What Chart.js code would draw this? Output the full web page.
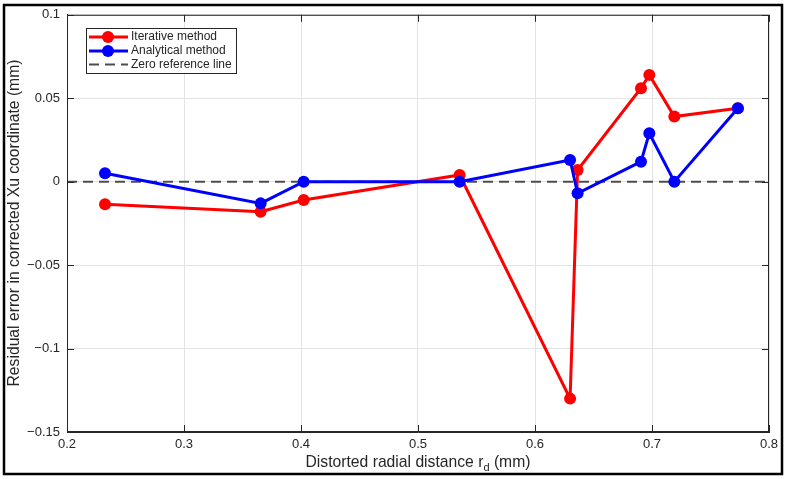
<!DOCTYPE html>
<html>
<head>
<meta charset="utf-8">
<script src="https://cdn.jsdelivr.net/npm/chart.js@4.4.0/dist/chart.umd.min.js"></script>
<style>
  html, body { margin: 0; padding: 0; background: #fff; }
  canvas { display: block; }
</style>
</head>
<body>
<canvas id="chart" width="787" height="479"></canvas>
<script>
// radial distances (mm), shared by both methods
const radialDist = [0.2325, 0.3655, 0.4023, 0.5356, 0.630, 0.6364, 0.6906, 0.6977, 0.7191, 0.7734];
const iterativeErr = [-0.0135, -0.018, -0.011, 0.004, -0.130, 0.007, 0.056, 0.064, 0.039, 0.044];
const analyticalErr = [0.005, -0.013, 0.0, 0.0, 0.013, -0.007, 0.012, 0.029, 0.0, 0.044];
const zeroLineX = [0.2, 0.8];
const zeroLineY = [0, 0];
const seriesNames = ['Iterative method', 'Analytical method', 'Zero reference line'];

const FONT = '"Liberation Sans", Arial, sans-serif';
const AXIS = '#262626';

const toPoints = (xs, ys) => xs.map((x, i) => ({ x: x, y: ys[i] }));

// MATLAB-ish frame: inward ticks on all four sides, box, outer border, axis titles
const framePlugin = {
  id: 'frame',
  afterDraw(chart) {
    const { ctx, chartArea: a, scales } = chart;
    ctx.save();
    ctx.strokeStyle = AXIS;
    ctx.lineWidth = 1;
    ctx.strokeRect(a.left + 0.5, a.top + 0.5, a.right - a.left - 1, a.bottom - a.top - 1);
    ctx.beginPath();
    const tl = 7;
    scales.x.ticks.forEach(t => {
      const px = Math.round(scales.x.getPixelForValue(t.value)) + 0.5;
      ctx.moveTo(px, a.bottom); ctx.lineTo(px, a.bottom - tl);
      ctx.moveTo(px, a.top); ctx.lineTo(px, a.top + tl);
    });
    scales.y.ticks.forEach(t => {
      const py = Math.round(scales.y.getPixelForValue(t.value)) + 0.5;
      ctx.moveTo(a.left, py); ctx.lineTo(a.left + tl, py);
      ctx.moveTo(a.right, py); ctx.lineTo(a.right - tl, py);
    });
    ctx.stroke();

    // x axis title with subscript d
    const base = 'Distorted radial distance r';
    const tail = ' (mm)';
    ctx.fillStyle = AXIS;
    ctx.textBaseline = 'alphabetic';
    ctx.font = '15.7px ' + FONT;
    const w1 = ctx.measureText(base).width;
    const w3 = ctx.measureText(tail).width;
    ctx.font = '11px ' + FONT;
    const w2 = ctx.measureText('d').width;
    const x0 = (a.left + a.right) / 2 - (w1 + w2 + w3) / 2;
    const yb = 467;
    ctx.font = '15.7px ' + FONT;
    ctx.textAlign = 'left';
    ctx.fillText(base, x0, yb);
    ctx.font = '11px ' + FONT;
    ctx.fillText('d', x0 + w1, yb + 4);
    ctx.font = '15.7px ' + FONT;
    ctx.fillText(tail, x0 + w1 + w2, yb);

    // y axis title
    ctx.save();
    ctx.translate(15, 223);
    ctx.rotate(-Math.PI / 2);
    ctx.font = '15.7px ' + FONT;
    ctx.textAlign = 'center';
    ctx.textBaseline = 'middle';
    ctx.fillText('Residual error in corrected Xu coordinate (mm)', 0, 0);
    ctx.restore();

    // outer figure border
    ctx.strokeStyle = '#000';
    ctx.lineWidth = 2.5;
    ctx.strokeRect(4, 5, 778, 469);

    // legend box
    const lx = 86, ly = 28, lw = 150, lh = 45;
    ctx.fillStyle = '#fff';
    ctx.fillRect(lx, ly, lw, lh);
    ctx.strokeStyle = AXIS;
    ctx.lineWidth = 1;
    ctx.strokeRect(lx + 0.5, ly + 0.5, lw, lh);
    const rows = [37, 51, 64.5];
    chart.data.datasets.forEach((ds, i) => {
      const y = rows[i];
      ctx.strokeStyle = ds.borderColor;
      ctx.lineWidth = ds.borderWidth;
      ctx.setLineDash(ds.borderDash || []);
      ctx.beginPath();
      ctx.moveTo(89, y); ctx.lineTo(128, y);
      ctx.stroke();
      ctx.setLineDash([]);
      if (ds.pointRadius > 0) {
        ctx.fillStyle = ds.pointBackgroundColor;
        ctx.beginPath();
        ctx.arc(108, y, ds.pointRadius, 0, Math.PI * 2);
        ctx.fill();
      }
      ctx.fillStyle = AXIS;
      ctx.font = '12px ' + FONT;
      ctx.textAlign = 'left';
      ctx.textBaseline = 'middle';
      ctx.fillText(ds.label, 131, y);
    });
    ctx.restore();
  }
};

const fmt = v => {
  const r = Math.round(v * 100) / 100;
  if (Math.abs(r) < 1e-9) return '0';
  return String(r).replace('-', '\u2212');
};

new Chart(document.getElementById('chart'), {
  type: 'line',
  data: {
    datasets: [
      {
        label: seriesNames[0],
        data: toPoints(radialDist, iterativeErr),
        borderColor: '#ff0000',
        backgroundColor: '#ff0000',
        pointBackgroundColor: '#ff0000',
        pointBorderWidth: 0,
        pointRadius: 6,
        borderWidth: 3,
        order: 1
      },
      {
        label: seriesNames[1],
        data: toPoints(radialDist, analyticalErr),
        borderColor: '#0000ff',
        backgroundColor: '#0000ff',
        pointBackgroundColor: '#0000ff',
        pointBorderWidth: 0,
        pointRadius: 6,
        borderWidth: 3,
        order: 0
      },
      {
        label: seriesNames[2],
        data: toPoints(zeroLineX, zeroLineY),
        borderColor: '#4d4d4d',
        borderDash: [10, 6],
        borderWidth: 2,
        pointRadius: 0,
        order: 2
      }
    ]
  },
  options: {
    responsive: false,
    animation: false,
    devicePixelRatio: 1,
    layout: { padding: { left: 5, top: 14, right: 18, bottom: 0 } },
    plugins: {
      legend: { display: false },
      tooltip: { enabled: false }
    },
    scales: {
      x: {
        type: 'linear',
        min: 0.2,
        max: 0.8,
        afterFit: s => { s.height = 47; },
        ticks: {
          stepSize: 0.1,
          color: AXIS,
          font: { family: FONT, size: 13 },
          padding: 5,
          maxRotation: 0,
          callback: v => v.toFixed(1)
        },
        grid: { color: '#e3e3e3', drawTicks: false },
        border: { color: AXIS }
      },
      y: {
        type: 'linear',
        min: -0.15,
        max: 0.1,
        afterFit: s => { s.width = 62; },
        ticks: {
          stepSize: 0.05,
          color: AXIS,
          font: { family: FONT, size: 13 },
          padding: 7,
          callback: fmt
        },
        grid: { color: '#e3e3e3', drawTicks: false },
        border: { color: AXIS }
      }
    }
  },
  plugins: [framePlugin]
});
</script>
</body>
</html>
